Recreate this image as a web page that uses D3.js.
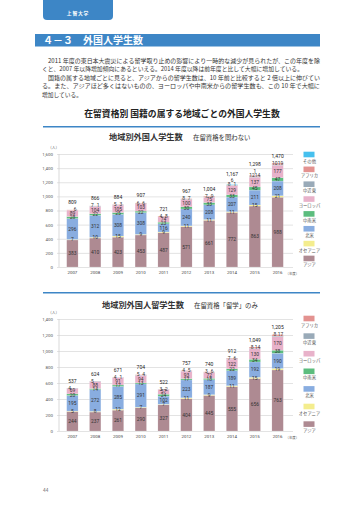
<!DOCTYPE html>
<html><head><meta charset="utf-8">
<script src="https://cdn.jsdelivr.net/npm/d3@7"></script>
<style>
body{margin:0;background:#fff;}
svg{display:block;font-family:"Noto Sans CJK JP","Noto Sans",sans-serif;}
</style></head>
<body>
<svg id="c" width="360" height="509"></svg>
<script>
// ---- data ----
const years = [2007,2008,2009,2010,2011,2012,2013,2014,2015,2016];
const seriesKeys = ["asia","oceania","na","latam","europe","mideast","africa","other"];
const seriesNames = {asia:"アジア",oceania:"オセアニア",na:"北米",latam:"中南米",europe:"ヨーロッパ",mideast:"中近東",africa:"アフリカ",other:"その他"};
const seriesColors = {asia:"#ae8a92",oceania:"#f4ed8e",na:"#89ade0",latam:"#5cbd7e",europe:"#e8b2ca",mideast:"#99aab8",africa:"#e39290",other:"#46c0ee"};

// chart 1: all residence statuses
const asia1    = [383,410,423,453,487,571,661,772,863,988];
const oceania1 = [7,10,15,9,9,11,11,11,15,21];
const na1      = [296,312,308,308,116,240,208,207,211,208];
const latam1   = [28,22,25,22,23,30,33,33,45,47];
const europe1  = [89,104,105,103,74,100,75,129,137,177];
const mideast1 = [0,7,5,6,4,8,7,8,12,10];
const africa1  = [6,1,3,6,8,7,9,1,14,19];
const other1   = [0,0,0,0,0,0,0,6,1,0];
const yTicks1  = [0,200,400,600,800,1000,1200,1400,1600];

// chart 2: "留学" status only
const asia2    = [244,237,261,290,327,404,445,555,656,763];
const oceania2 = [5,8,12,7,7,11,9,11,15,19];
const na2      = [195,272,285,291,102,223,187,189,192,190];
const latam2   = [20,14,17,13,24,17,18,22,34,38];
const europe2  = [69,88,91,94,57,93,72,122,130,170];
const mideast2 = [4,5,4,5,3,4,3,7,8,8];
const africa2  = [0,0,1,4,2,5,6,6,14,17];
const yTicks2  = [0,200,400,600,800,1000,1200,1400];

const svg = d3.select("#c");
const blue = "#3d86c6";

// header tab
svg.append("path").attr("d","M43,0 H113 V16 Q113,20 109,20 H47 Q43,20 43,16 Z").attr("fill",blue);
svg.append("text").attr("x",78).attr("y",15).attr("text-anchor","middle").attr("fill","#fff")
  .attr("font-size",4.8).attr("font-weight","bold").attr("letter-spacing",0.8).text("上智大学");

// section bar
svg.append("rect").attr("x",35).attr("y",34).attr("width",285).attr("height",12.5).attr("fill",blue);
svg.append("text").attr("x",43).attr("y",44).attr("fill","#fff").attr("font-size",10).attr("font-weight","bold")
  .text("４－３　外国人学生数");

// paragraph
const para = [
 {t:"2011 年度の東日本大震災による留学取り止めの影響により一時的な減少が見られたが、この年度を除", x:48, w:272},
 {t:"くと、2007 年以降増加傾向にあるといえる。2014 年度以降は前年度と比して大幅に増加している。", x:42, w:261},
 {t:"国籍の属する地域ごとに見ると、アジアからの留学生数は、10 年前と比較すると 2 倍以上に伸びてい", x:48, w:272},
 {t:"る。また、アジアほど多くはないものの、ヨーロッパや中南米からの留学生数も、この 10 年で大幅に", x:42, w:278},
 {t:"増加している。", x:42, w:40}
];
para.forEach((p,i)=>{
  svg.append("text").attr("x",p.x).attr("y",62.5+i*8.5).attr("font-size",5.8).attr("fill","#333")
    .attr("textLength",p.w).attr("lengthAdjust","spacingAndGlyphs").text(p.t);
});

// main title
svg.append("text").attr("x",182).attr("y",116.5).attr("text-anchor","middle").attr("font-size",8.8)
  .attr("font-weight","bold").attr("fill","#222").text("在留資格別 国籍の属する地域ごとの外国人学生数");
svg.append("line").attr("x1",43).attr("x2",320).attr("y1",126.7).attr("y2",126.7).attr("stroke",blue).attr("stroke-width",1.4);

// subtitles
svg.append("text").attr("x",109).attr("y",140.3).attr("font-size",8.2).attr("font-weight","bold").attr("fill","#333").text("地域別外国人学生数");
svg.append("text").attr("x",193).attr("y",139.8).attr("font-size",6.4).attr("fill","#333").text("在留資格を問わない");

svg.append("line").attr("x1",43).attr("x2",320).attr("y1",292.7).attr("y2",292.7).attr("stroke",blue).attr("stroke-width",1.4);
svg.append("text").attr("x",102).attr("y",308).attr("font-size",8.2).attr("font-weight","bold").attr("fill","#333").text("地域別外国人留学生数");
svg.append("text").attr("x",194).attr("y",307.5).attr("font-size",6.4).attr("fill","#333").text("在留資格「留学」のみ");

// page number
svg.append("text").attr("x",43).attr("y",492).attr("font-size",4.8).attr("fill","#666").text("44");

function drawChart(cfg){
  const g = svg.append("g");
  const rows = years.map((yr,i)=>{
    const r = {year:yr};
    seriesKeys.forEach(k=>{ r[k] = cfg.data[k] ? cfg.data[k][i] : 0; });
    return r;
  });
  const x = d3.scaleBand().domain(years).range([61,289]).paddingInner(0.5).paddingOuter(0.25);
  const y = d3.scaleLinear().domain([0,cfg.max]).range([cfg.y0,cfg.yTop]);

  // grid + y ticks
  const ax = g.append("g").attr("transform","translate(59,0)")
    .call(d3.axisLeft(y).tickValues(cfg.ticks).tickSize(-234).tickPadding(6).tickFormat(d3.format(",")));
  ax.select(".domain").remove();
  ax.selectAll(".tick line").attr("stroke","#dcdcdc").attr("stroke-width",0.8).attr("x1",-2);
  ax.selectAll(".tick text").attr("font-size",4.4).attr("fill","#555").attr("font-family","Roboto,'Noto Sans',sans-serif");
  g.append("line").attr("x1",59).attr("x2",59).attr("y1",cfg.y0).attr("y2",cfg.yTop).attr("stroke","#cfcfcf").attr("stroke-width",0.8);
  g.append("text").attr("x",48).attr("y",cfg.yTop-5).attr("font-size",3.8).attr("fill","#555").text("（人）");

  // x axis
  const xa = g.append("g").attr("transform",`translate(0,${cfg.y0})`)
    .call(d3.axisBottom(x).tickSize(0).tickPadding(3.5));
  xa.select(".domain").remove();
  xa.selectAll(".tick text").attr("font-size",4.4).attr("fill","#444").attr("font-family","Roboto,'Noto Sans',sans-serif");
  g.append("text").attr("x",x(2016)+x.bandwidth()/2+8).attr("y",cfg.y0+7.8).attr("font-size",3.4).attr("fill","#555").text("（年度）");

  const stack = d3.stack().keys(seriesKeys)(rows);
  const layers = g.selectAll("g.layer").data(stack).join("g").attr("fill",d=>seriesColors[d.key]);
  layers.selectAll("rect").data(d=>d).join("rect")
    .attr("x",d=>x(d.data.year)).attr("width",x.bandwidth())
    .attr("y",d=>y(d[1])).attr("height",d=>Math.max(0,y(d[0])-y(d[1])))
    .attr("stroke","#fff").attr("stroke-opacity",0.45).attr("stroke-width",0.35);

  // segment labels
  const small = {mideast:{dx:-2.8,dy:1.6},africa:{dx:2.8,dy:1.6},other:{dx:0,dy:-2.6}};
  const fs = 4.9;
  rows.forEach((r,i)=>{
    const cx = x(r.year)+x.bandwidth()/2;
    const tot = d3.sum(seriesKeys,k=>r[k]);
    const centered = [];
    stack.forEach(layer=>{
      const d = layer[i];
      const v = r[layer.key];
      if(!v) return;
      if(small[layer.key]){
        g.append("text").attr("x",cx+small[layer.key].dx).attr("y",y(tot)+small[layer.key].dy)
          .attr("text-anchor","middle").attr("font-size",fs).attr("fill","#333")
          .attr("font-family","Roboto,'Noto Sans',sans-serif").text(v);
      } else {
        centered.push({v, py:(y(d[0])+y(d[1]))/2+1.7});
      }
    });
    // gentle separation between stacked labels (bottom to top)
    for(let j=1;j<centered.length;j++){
      const gap = centered[j-1].py - centered[j].py;
      if(gap < 4.4 && centered[j].v >= 20 && centered[j-1].v >= 20){
        const need = (4.4-gap)/2;
        centered[j-1].py += need; centered[j].py -= need;
      }
    }
    centered.forEach(c=>{
      g.append("text").attr("x",cx).attr("y",c.py).attr("text-anchor","middle").attr("font-size",fs)
        .attr("fill","#333").attr("font-family","Roboto,'Noto Sans',sans-serif").text(c.v);
    });
    g.append("text").attr("x",cx).attr("y",y(tot)-(r.other?9:5.5)).attr("text-anchor","middle")
      .attr("font-size",5).attr("fill","#222").attr("font-family","Roboto,'Noto Sans',sans-serif").text(d3.format(",")(tot));
  });

  // legend
  cfg.legend.forEach((k,i)=>{
    const sy = cfg.legY + i*cfg.legStep;
    g.append("rect").attr("x",303.5).attr("y",sy-2.8).attr("width",11).attr("height",5.6).attr("fill",seriesColors[k]);
    g.append("text").attr("x",309.5).attr("y",sy+8).attr("text-anchor","middle").attr("font-size",4.3).attr("fill","#555").text(seriesNames[k]);
  });
}

drawChart({
  data:{asia:asia1,oceania:oceania1,na:na1,latam:latam1,europe:europe1,mideast:mideast1,africa:africa1,other:other1},
  max:1600, ticks:yTicks1, y0:267, yTop:154,
  legend:["other","africa","mideast","europe","latam","na","oceania","asia"], legY:154.5, legStep:14.85
});
drawChart({
  data:{asia:asia2,oceania:oceania2,na:na2,latam:latam2,europe:europe2,mideast:mideast2,africa:africa2},
  max:1400, ticks:yTicks2, y0:431, yTop:319,
  legend:["africa","mideast","europe","latam","na","oceania","asia"], legY:318.5, legStep:17.6
});
</script>
</body></html>
